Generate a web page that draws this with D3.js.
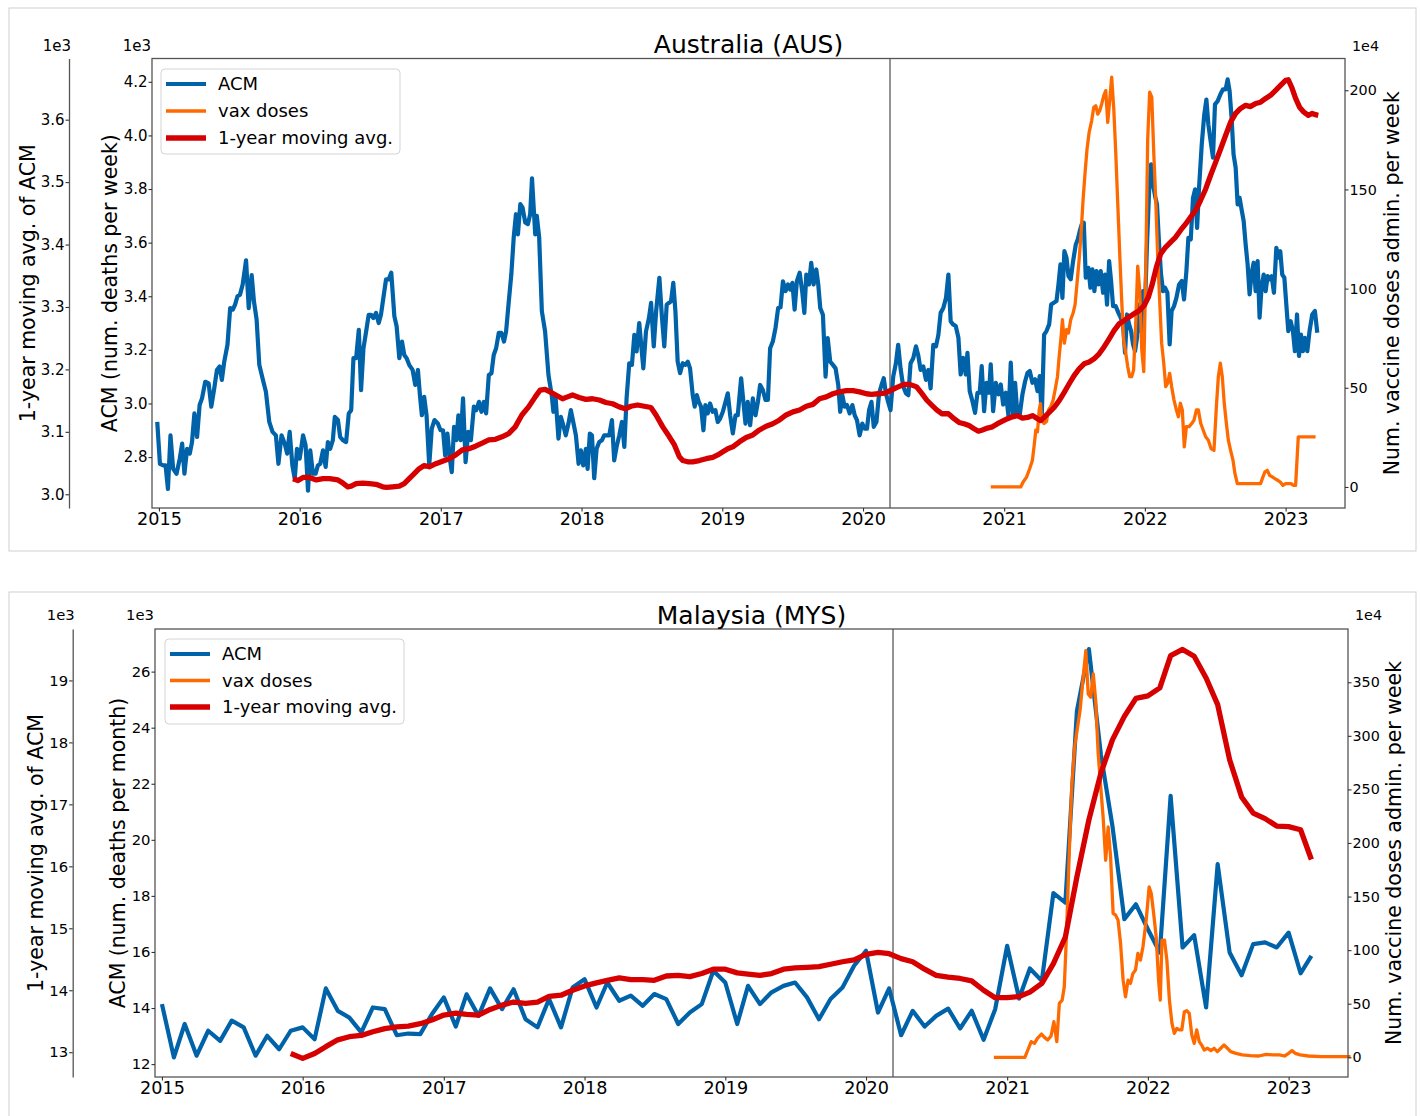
<!DOCTYPE html>
<html>
<head>
<meta charset="utf-8">
<script src="https://cdn.jsdelivr.net/npm/d3@7"></script>
<style>
  body { margin: 0; background: #fff; }
  svg { display: block; }
  text { font-family: "DejaVu Sans", sans-serif; fill: #000; }
</style>
</head>
<body>
<div class="canvas"></div>
<script>
// ---- data ----
const yearTicks = [2015, 2016, 2017, 2018, 2019, 2020, 2021, 2022, 2023];
const pandemicDate = "2020-03-11";

// Australia, weekly ACM: [decimal year, deaths]
const ausAcm = [[2014.988,2931],[2015.007,2775],[2015.031,2769],[2015.047,2769],[2015.064,2681],[2015.082,2881],[2015.101,2756],[2015.125,2738],[2015.148,2794],[2015.165,2850],[2015.181,2738],[2015.200,2831],[2015.219,2813],[2015.235,2856],[2015.252,2963],[2015.271,2875],[2015.289,2994],[2015.306,3019],[2015.329,3081],[2015.353,3075],[2015.372,2988],[2015.393,3056],[2015.412,3125],[2015.431,3138],[2015.447,3088],[2015.464,3156],[2015.487,3219],[2015.506,3356],[2015.525,3350],[2015.541,3369],[2015.558,3400],[2015.576,3406],[2015.595,3444],[2015.619,3534],[2015.638,3356],[2015.659,3479],[2015.675,3381],[2015.694,3313],[2015.713,3144],[2015.736,3094],[2015.760,3044],[2015.784,2931],[2015.807,2894],[2015.831,2881],[2015.849,2775],[2015.871,2881],[2015.894,2850],[2015.911,2813],[2015.929,2894],[2015.948,2769],[2015.965,2719],[2015.981,2831],[2016.000,2794],[2016.024,2881],[2016.042,2844],[2016.059,2675],[2016.075,2825],[2016.094,2738],[2016.113,2738],[2016.129,2769],[2016.146,2775],[2016.165,2825],[2016.184,2763],[2016.200,2856],[2016.216,2831],[2016.235,2863],[2016.249,2950],[2016.271,2938],[2016.287,2875],[2016.306,2863],[2016.329,2856],[2016.348,2963],[2016.365,2975],[2016.381,3169],[2016.400,3169],[2016.419,3275],[2016.435,3050],[2016.452,3206],[2016.471,3269],[2016.489,3331],[2016.506,3331],[2016.522,3319],[2016.541,3338],[2016.560,3300],[2016.576,3331],[2016.593,3394],[2016.612,3463],[2016.631,3463],[2016.649,3488],[2016.671,3325],[2016.687,3288],[2016.706,3169],[2016.725,3231],[2016.741,3181],[2016.758,3169],[2016.776,3144],[2016.800,3125],[2016.819,3069],[2016.838,3125],[2016.852,3031],[2016.866,2956],[2016.882,3025],[2016.899,2956],[2016.918,2769],[2016.936,2906],[2016.955,2938],[2016.979,2925],[2016.998,2900],[2017.016,2900],[2017.031,2806],[2017.047,2888],[2017.064,2794],[2017.078,2744],[2017.094,2913],[2017.111,2863],[2017.125,2956],[2017.141,2863],[2017.158,3019],[2017.176,2781],[2017.195,2894],[2017.214,2863],[2017.235,2988],[2017.252,2975],[2017.271,3006],[2017.289,2969],[2017.306,3006],[2017.322,2963],[2017.341,3106],[2017.360,3113],[2017.376,3181],[2017.393,3206],[2017.412,3263],[2017.431,3263],[2017.449,3231],[2017.464,3269],[2017.482,3375],[2017.501,3481],[2017.518,3619],[2017.534,3706],[2017.548,3631],[2017.565,3744],[2017.581,3731],[2017.600,3675],[2017.619,3669],[2017.635,3706],[2017.648,3840],[2017.671,3631],[2017.682,3700],[2017.699,3619],[2017.718,3344],[2017.741,3269],[2017.765,3106],[2017.788,3031],[2017.800,2969],[2017.816,3019],[2017.836,2869],[2017.853,2950],[2017.870,2919],[2017.888,2881],[2017.907,2925],[2017.924,2975],[2017.941,2931],[2017.960,2881],[2017.979,2775],[2017.995,2825],[2018.012,2769],[2018.031,2831],[2018.043,2756],[2018.059,2888],[2018.074,2881],[2018.090,2721],[2018.107,2831],[2018.126,2856],[2018.145,2863],[2018.161,2881],[2018.178,2881],[2018.197,2881],[2018.216,2938],[2018.232,2788],[2018.249,2838],[2018.268,2881],[2018.287,2931],[2018.304,2838],[2018.320,3019],[2018.339,3150],[2018.358,3144],[2018.375,3256],[2018.391,3194],[2018.410,3300],[2018.427,3200],[2018.439,3131],[2018.458,3269],[2018.479,3319],[2018.494,3375],[2018.513,3213],[2018.530,3344],[2018.553,3469],[2018.570,3331],[2018.588,3213],[2018.605,3369],[2018.620,3375],[2018.636,3381],[2018.652,3450],[2018.667,3344],[2018.683,3156],[2018.700,3113],[2018.719,3150],[2018.738,3144],[2018.755,3156],[2018.771,3131],[2018.790,3031],[2018.804,2988],[2018.819,3031],[2018.833,3006],[2018.849,2988],[2018.866,2900],[2018.880,2994],[2018.897,2963],[2018.913,3000],[2018.932,2969],[2018.951,2975],[2018.968,2931],[2018.985,2944],[2019.004,2969],[2019.023,3006],[2019.039,3038],[2019.056,2956],[2019.075,2888],[2019.094,2956],[2019.110,2956],[2019.134,3094],[2019.150,3006],[2019.165,2925],[2019.181,3006],[2019.198,2919],[2019.217,3019],[2019.236,2956],[2019.253,3006],[2019.269,3069],[2019.288,3050],[2019.307,3013],[2019.324,3013],[2019.340,3206],[2019.359,3231],[2019.378,3281],[2019.397,3356],[2019.414,3359],[2019.431,3456],[2019.450,3419],[2019.467,3444],[2019.483,3425],[2019.498,3450],[2019.514,3350],[2019.530,3456],[2019.550,3488],[2019.569,3413],[2019.583,3338],[2019.597,3481],[2019.616,3444],[2019.632,3525],[2019.649,3444],[2019.668,3500],[2019.682,3444],[2019.696,3356],[2019.715,3331],[2019.734,3100],[2019.749,3244],[2019.767,3156],[2019.786,3144],[2019.805,3131],[2019.824,3069],[2019.838,2969],[2019.853,3031],[2019.869,2988],[2019.886,2994],[2019.905,2963],[2019.924,2994],[2019.941,2956],[2019.957,2938],[2019.976,2881],[2019.995,2925],[2020.012,2906],[2020.028,2906],[2020.043,2975],[2020.060,3006],[2020.076,2913],[2020.095,2931],[2020.114,3038],[2020.131,3069],[2020.147,3094],[2020.162,3038],[2020.178,3006],[2020.195,2975],[2020.214,3100],[2020.233,3150],[2020.249,3219],[2020.266,3131],[2020.285,3063],[2020.304,3038],[2020.321,3031],[2020.337,3150],[2020.356,3169],[2020.375,3213],[2020.391,3181],[2020.408,3125],[2020.427,3138],[2020.446,3088],[2020.463,3125],[2020.479,3056],[2020.498,3219],[2020.517,3213],[2020.534,3256],[2020.550,3338],[2020.569,3356],[2020.588,3394],[2020.605,3481],[2020.621,3307],[2020.638,3295],[2020.657,3289],[2020.676,3245],[2020.692,3108],[2020.709,3170],[2020.728,3108],[2020.740,3189],[2020.756,3046],[2020.775,3009],[2020.794,2965],[2020.811,3040],[2020.827,3040],[2020.841,3139],[2020.858,2971],[2020.875,3077],[2020.893,3040],[2020.905,3146],[2020.922,2971],[2020.941,3077],[2020.960,3034],[2020.976,3071],[2020.993,2996],[2021.012,3040],[2021.031,2953],[2021.047,3152],[2021.064,2959],[2021.078,3077],[2021.095,2953],[2021.111,2959],[2021.130,3034],[2021.149,3083],[2021.166,3114],[2021.182,3121],[2021.201,3077],[2021.220,3090],[2021.237,3046],[2021.253,3102],[2021.267,2947],[2021.284,3257],[2021.301,3270],[2021.320,3295],[2021.334,3369],[2021.353,3376],[2021.372,3382],[2021.386,3444],[2021.400,3519],[2021.414,3394],[2021.428,3568],[2021.443,3544],[2021.457,3475],[2021.473,3463],[2021.490,3531],[2021.509,3593],[2021.523,3612],[2021.537,3643],[2021.551,3668],[2021.566,3674],[2021.580,3469],[2021.599,3506],[2021.613,3432],[2021.627,3500],[2021.641,3419],[2021.656,3494],[2021.670,3444],[2021.686,3494],[2021.703,3413],[2021.717,3481],[2021.731,3369],[2021.746,3531],[2021.760,3456],[2021.774,3363],[2021.793,3363],[2021.812,3338],[2021.828,3320],[2021.845,3295],[2021.859,3189],[2021.873,3332],[2021.888,3295],[2021.902,3270],[2021.916,3220],[2021.930,3195],[2021.944,3245],[2021.959,3369],[2021.973,3270],[2021.987,3419],[2022.001,3369],[2022.015,3593],[2022.030,3792],[2022.044,3892],[2022.058,3817],[2022.072,3774],[2022.086,3743],[2022.101,3593],[2022.115,3481],[2022.129,3419],[2022.143,3432],[2022.160,3413],[2022.176,3220],[2022.190,3345],[2022.207,3363],[2022.224,3394],[2022.243,3444],[2022.262,3457],[2022.278,3388],[2022.295,3494],[2022.309,3618],[2022.326,3612],[2022.342,3767],[2022.357,3799],[2022.371,3655],[2022.385,3805],[2022.404,3966],[2022.422,4078],[2022.437,4134],[2022.451,4041],[2022.467,3979],[2022.484,3917],[2022.498,4116],[2022.517,4128],[2022.536,4153],[2022.555,4172],[2022.574,4172],[2022.588,4209],[2022.602,4165],[2022.616,4066],[2022.630,3929],[2022.645,3880],[2022.659,3743],[2022.673,3767],[2022.687,3724],[2022.702,3680],[2022.716,3593],[2022.730,3519],[2022.744,3407],[2022.759,3488],[2022.773,3525],[2022.787,3419],[2022.801,3531],[2022.815,3320],[2022.829,3432],[2022.844,3481],[2022.858,3419],[2022.872,3475],[2022.886,3463],[2022.901,3475],[2022.917,3413],[2022.934,3581],[2022.948,3544],[2022.962,3568],[2022.976,3481],[2022.991,3469],[2023.005,3369],[2023.019,3270],[2023.036,3307],[2023.052,3270],[2023.066,3195],[2023.081,3332],[2023.095,3177],[2023.109,3257],[2023.123,3195],[2023.137,3245],[2023.154,3195],[2023.170,3270],[2023.189,3332],[2023.208,3345],[2023.225,3264]];

// Australia, 1-year moving average of ACM
const ausAvg = [[2015.953,3025],[2015.988,3022],[2016.024,3027],[2016.071,3027],[2016.118,3023],[2016.165,3025],[2016.212,3025],[2016.271,3023],[2016.306,3018],[2016.341,3012],[2016.365,3013],[2016.400,3017],[2016.447,3018],[2016.494,3017],[2016.541,3016],[2016.588,3012],[2016.616,3011],[2016.659,3012],[2016.706,3013],[2016.741,3017],[2016.776,3025],[2016.812,3033],[2016.847,3041],[2016.882,3046],[2016.918,3044],[2016.965,3049],[2017.012,3053],[2017.059,3057],[2017.106,3063],[2017.153,3071],[2017.200,3073],[2017.247,3077],[2017.294,3082],[2017.341,3087],[2017.388,3088],[2017.435,3092],[2017.482,3097],[2017.529,3108],[2017.576,3127],[2017.624,3140],[2017.671,3156],[2017.706,3167],[2017.741,3168],[2017.776,3164],[2017.817,3159],[2017.865,3153],[2017.900,3156],[2017.936,3159],[2017.983,3155],[2018.031,3152],[2018.078,3153],[2018.126,3151],[2018.173,3147],[2018.221,3145],[2018.268,3140],[2018.311,3137],[2018.351,3141],[2018.398,3143],[2018.446,3141],[2018.493,3139],[2018.529,3127],[2018.577,3108],[2018.624,3092],[2018.660,3079],[2018.695,3060],[2018.719,3054],[2018.754,3052],[2018.790,3052],[2018.837,3054],[2018.885,3057],[2018.932,3059],[2018.968,3063],[2019.004,3068],[2019.039,3073],[2019.075,3076],[2019.122,3084],[2019.170,3091],[2019.217,3095],[2019.264,3103],[2019.312,3109],[2019.359,3113],[2019.407,3119],[2019.454,3127],[2019.502,3132],[2019.549,3135],[2019.597,3141],[2019.644,3144],[2019.691,3153],[2019.739,3156],[2019.786,3161],[2019.834,3164],[2019.881,3166],[2019.929,3166],[2019.976,3164],[2020.024,3161],[2020.060,3160],[2020.107,3161],[2020.154,3162],[2020.202,3167],[2020.249,3172],[2020.290,3176],[2020.332,3176],[2020.380,3172],[2020.415,3162],[2020.451,3151],[2020.486,3143],[2020.522,3135],[2020.558,3129],[2020.605,3129],[2020.645,3121],[2020.680,3115],[2020.716,3113],[2020.751,3110],[2020.787,3105],[2020.818,3101],[2020.846,3103],[2020.882,3106],[2020.917,3108],[2020.953,3113],[2020.988,3117],[2021.024,3121],[2021.059,3124],[2021.095,3126],[2021.130,3122],[2021.166,3123],[2021.201,3126],[2021.237,3121],[2021.260,3118],[2021.284,3123],[2021.320,3131],[2021.355,3139],[2021.391,3150],[2021.426,3163],[2021.462,3177],[2021.497,3190],[2021.533,3201],[2021.568,3209],[2021.604,3212],[2021.639,3217],[2021.675,3225],[2021.710,3236],[2021.746,3249],[2021.781,3262],[2021.817,3273],[2021.852,3278],[2021.888,3284],[2021.923,3289],[2021.959,3294],[2021.994,3302],[2022.025,3316],[2022.053,3337],[2022.082,3364],[2022.112,3385],[2022.148,3396],[2022.183,3404],[2022.219,3412],[2022.254,3423],[2022.290,3433],[2022.325,3444],[2022.361,3455],[2022.396,3471],[2022.432,3489],[2022.467,3511],[2022.503,3532],[2022.538,3553],[2022.574,3575],[2022.609,3596],[2022.645,3610],[2022.680,3618],[2022.716,3623],[2022.751,3621],[2022.787,3626],[2022.822,3628],[2022.858,3634],[2022.893,3639],[2022.929,3647],[2022.964,3655],[2023.000,3663],[2023.019,3664],[2023.043,3652],[2023.071,3634],[2023.099,3620],[2023.130,3612],[2023.161,3607],[2023.189,3610],[2023.213,3608],[2023.232,3607]];

// Australia, vaccine doses per week, in units of 1e4
const ausVax = [[2020.905,0],[2021.118,0],[2021.135,2.5],[2021.159,5],[2021.182,9.3],[2021.201,13.5],[2021.215,22],[2021.225,28.7],[2021.237,27.8],[2021.249,38.8],[2021.258,42],[2021.267,33.7],[2021.284,32],[2021.301,33],[2021.315,38.8],[2021.331,40.5],[2021.348,43.8],[2021.362,48.9],[2021.379,55.6],[2021.391,65.8],[2021.405,75.9],[2021.414,84.3],[2021.428,72.5],[2021.443,79.3],[2021.457,77.6],[2021.473,84.3],[2021.490,87.7],[2021.504,91.9],[2021.518,102.9],[2021.533,114.7],[2021.547,128.2],[2021.561,145],[2021.575,158.5],[2021.589,170.3],[2021.604,178.8],[2021.622,184.7],[2021.637,191.4],[2021.651,192.2],[2021.665,188],[2021.679,189.7],[2021.693,193.1],[2021.708,197.3],[2021.722,199.8],[2021.736,183.8],[2021.750,194.8],[2021.764,206.6],[2021.779,190.6],[2021.793,168.6],[2021.807,143.3],[2021.821,118],[2021.835,94.4],[2021.849,74.2],[2021.864,67.5],[2021.878,60.7],[2021.892,55.6],[2021.906,55.6],[2021.920,59],[2021.935,82.6],[2021.949,111.3],[2021.963,99.5],[2021.978,69.1],[2021.992,58.2],[2022.006,107.9],[2022.020,175.4],[2022.034,199],[2022.049,196.5],[2022.063,168.6],[2022.077,145],[2022.091,116.4],[2022.105,94.4],[2022.119,72.5],[2022.134,62.4],[2022.148,50.6],[2022.162,52.3],[2022.176,57.3],[2022.190,50.6],[2022.207,43.8],[2022.224,38.8],[2022.238,35.4],[2022.252,42.2],[2022.266,38.8],[2022.280,20.2],[2022.295,30.4],[2022.314,30.4],[2022.333,32],[2022.349,33.7],[2022.366,38.8],[2022.380,38.8],[2022.397,32],[2022.414,28.7],[2022.432,25.3],[2022.451,23.6],[2022.470,19.4],[2022.491,18.5],[2022.508,40.5],[2022.522,55.6],[2022.536,62.4],[2022.550,55.6],[2022.564,42.2],[2022.579,32],[2022.593,23.6],[2022.609,18.5],[2022.626,13.5],[2022.640,6.7],[2022.657,1.7],[2022.822,1.7],[2022.839,5.1],[2022.853,7.6],[2022.870,8.4],[2022.886,5.9],[2022.905,5.1],[2022.924,4.2],[2022.943,3.4],[2022.962,2.5],[2022.981,0.8],[2023.000,1.7],[2023.038,1.7],[2023.057,0.8],[2023.071,0.8],[2023.090,25.3],[2023.213,25.3]];

// Malaysia, monthly ACM from Jan 2015, in thousands
const mysAcmStart = [2015, 0];
const mysAcm = [
  14.14, 12.24, 13.43, 12.30, 13.19, 12.83, 13.55, 13.31, 12.30, 13.01, 12.53, 13.19,
  13.31, 12.89, 14.70, 13.90, 13.66, 13.13, 14.02, 13.96, 13.03, 13.09, 13.07, 13.78,
  14.38, 13.34, 14.49, 13.72, 14.70, 13.96, 14.67, 13.60, 13.31, 14.32, 13.31, 14.73,
  15.03, 14.02, 14.91, 14.26, 14.44, 14.08, 14.50, 14.32, 13.43, 13.84, 14.14, 15.33,
  14.91, 13.43, 14.79, 14.14, 14.56, 14.79, 14.91, 14.38, 13.60, 14.32, 14.73, 15.51,
  16.04, 13.84, 14.70, 13.03, 13.90, 13.34, 13.72, 13.98, 13.27, 13.90, 12.87, 13.96,
  16.22, 14.34, 15.41, 14.97, 18.10, 17.76, 24.60, 26.80, 23.05, 20.50, 17.17, 17.70,
  16.81, 15.98, 21.57, 16.16, 16.60, 14.02, 19.13, 15.98, 15.17, 16.28, 16.34, 16.16,
  16.69, 15.24, 15.86
];

// Malaysia, 1-year moving average, monthly from Dec 2015, in thousands
const mysAvgStart = [2015, 11];
const mysAvg = [
  12.98,
  12.90, 12.98, 13.09, 13.20, 13.25, 13.27, 13.33, 13.38, 13.41, 13.42, 13.46, 13.52,
  13.60, 13.63, 13.61, 13.60, 13.69, 13.76, 13.81, 13.79, 13.81, 13.90, 13.92, 14.00,
  14.07, 14.12, 14.16, 14.20, 14.17, 14.17, 14.16, 14.23, 14.24, 14.22, 14.27, 14.34,
  14.34, 14.28, 14.26, 14.24, 14.27, 14.34, 14.36, 14.37, 14.38, 14.42, 14.46, 14.49,
  14.58, 14.61, 14.59, 14.51, 14.46, 14.34, 14.24, 14.21, 14.19, 14.15, 14.00, 13.88,
  13.88, 13.90, 13.97, 14.11, 14.43, 14.86, 15.83, 16.75, 17.50, 18.04, 18.42, 18.71,
  18.75, 18.88, 19.40, 19.50, 19.39, 19.04, 18.61, 17.72, 17.12, 16.86, 16.77, 16.65,
  16.64, 16.59, 16.11
];

// Malaysia, vaccine doses per week, in units of 1e4
const mysVax = [[2020.906,0],[2021.126,0],[2021.147,6.8],[2021.171,14.6],[2021.194,13.0],[2021.215,17.7],[2021.244,21.7],[2021.265,18.6],[2021.288,16.1],[2021.312,19.9],[2021.332,33.2],[2021.353,14.6],[2021.371,50.3],[2021.391,53.4],[2021.406,65.8],[2021.421,112.4],[2021.441,190],[2021.459,252],[2021.479,289],[2021.500,308],[2021.518,323.6],[2021.538,351.6],[2021.559,379.5],[2021.576,339],[2021.594,336],[2021.612,357.8],[2021.629,333],[2021.647,283.2],[2021.665,252.2],[2021.682,224.2],[2021.700,183.9],[2021.718,214.9],[2021.735,187],[2021.753,134.2],[2021.771,132.6],[2021.788,128],[2021.806,106.2],[2021.824,72],[2021.841,56.5],[2021.859,72],[2021.876,68.9],[2021.894,78.3],[2021.912,81.4],[2021.929,96.9],[2021.947,90.7],[2021.965,103.1],[2021.988,128],[2022.009,159],[2022.024,152.8],[2022.041,134.2],[2022.059,112.4],[2022.076,72],[2022.088,53.4],[2022.100,109.3],[2022.118,109.3],[2022.135,90.7],[2022.153,53.4],[2022.171,31.7],[2022.188,22.4],[2022.206,27],[2022.224,25.5],[2022.241,25.5],[2022.259,42.5],[2022.276,43.5],[2022.294,41],[2022.312,20.8],[2022.329,13],[2022.347,25.5],[2022.365,14.6],[2022.382,11.5],[2022.400,6.8],[2022.424,8.4],[2022.447,6.2],[2022.471,8.4],[2022.494,5.3],[2022.518,8.4],[2022.541,11.5],[2022.565,8.4],[2022.588,5.3],[2022.626,3.7],[2022.671,2.2],[2022.729,1.6],[2022.788,1.2],[2022.841,2.8],[2022.891,2.2],[2022.935,2.2],[2022.971,1.2],[2023.000,3.7],[2023.024,6.2],[2023.047,3.7],[2023.082,2.2],[2023.141,1.2],[2023.229,0.6],[2023.318,0.6],[2023.440,0.6]];

// tick values
const ausAcmTicks = [2.8, 3.0, 3.2, 3.4, 3.6, 3.8, 4.0, 4.2];
const ausAvgTicks = [3.0, 3.1, 3.2, 3.3, 3.4, 3.5, 3.6];
const ausVaxTicks = [0, 50, 100, 150, 200];
const mysAcmTicks = [12, 14, 16, 18, 20, 22, 24, 26];
const mysAvgTicks = [13, 14, 15, 16, 17, 18, 19];
const mysVaxTicks = [0, 50, 100, 150, 200, 250, 300, 350];

const colors = { acm: '#0062a8', vax: '#ff6a00', avg: '#d60000' };

// ---- helpers ----
function decYear(t) {
  const y = Math.floor(t);
  const a = Date.UTC(y, 0, 1), b = Date.UTC(y + 1, 0, 1);
  return new Date(a + (t - y) * (b - a));
}
const fromPairs = (arr, k) => arr.map(d => ({ date: decYear(d[0]), value: d[1] * k }));
const fromMonthly = (start, arr, k) =>
  arr.map((v, i) => ({ date: new Date(Date.UTC(start[0], start[1] + i, 1)), value: v * k }));

const svg = d3.select('.canvas')
  .append('svg')
  .attr('width', 1421)
  .attr('height', 1116);

function styleAxis(g, size) {
  g.attr('font-family', null).attr('font-size', size);
  g.selectAll('.tick line').attr('stroke', '#333').attr('stroke-width', 1.1);
  g.selectAll('.tick text').attr('fill', '#000');
  g.select('.domain').attr('stroke', '#555').attr('stroke-width', 1.3);
}

function drawPanel(p) {
  const g = svg.append('g');

  // outer frame
  g.append('rect')
    .attr('x', p.frame[0]).attr('y', p.frame[1])
    .attr('width', p.frame[2]).attr('height', p.frame[3])
    .attr('fill', 'none').attr('stroke', '#cfcfcf').attr('stroke-width', 1);

  const x = d3.scaleUtc()
    .domain([new Date(Date.UTC(2014, 11, 14)), new Date(Date.UTC(2023, 5, 4))])
    .range([p.left, p.right]);
  const yAcm = d3.scaleLinear().domain(p.acmDomain).range([p.bottom, p.top]);
  const yAvg = d3.scaleLinear().domain(p.avgDomain).range([p.bottom, p.top]);
  const yVax = d3.scaleLinear().domain(p.vaxDomain).range([p.bottom, p.top]);

  // vertical marker
  const vx = x(new Date(pandemicDate));
  g.append('line')
    .attr('x1', vx).attr('x2', vx).attr('y1', p.top).attr('y2', p.bottom)
    .attr('stroke', '#7a7a7a').attr('stroke-width', 1.6);

  // lines
  const lineFor = y => d3.line().x(d => x(d.date)).y(d => y(d.value));
  g.append('path').datum(p.acm)
    .attr('fill', 'none').attr('stroke', colors.acm).attr('stroke-width', 4.2)
    .attr('stroke-linejoin', 'round')
    .attr('d', lineFor(yAcm));
  g.append('path').datum(p.vax)
    .attr('fill', 'none').attr('stroke', colors.vax).attr('stroke-width', 3.3)
    .attr('stroke-linejoin', 'round')
    .attr('d', lineFor(yVax));
  g.append('path').datum(p.avg)
    .attr('fill', 'none').attr('stroke', colors.avg).attr('stroke-width', 5.3)
    .attr('stroke-linejoin', 'round')
    .attr('d', lineFor(yAvg));

  // plot frame
  g.append('rect')
    .attr('x', p.left).attr('y', p.top)
    .attr('width', p.right - p.left).attr('height', p.bottom - p.top)
    .attr('fill', 'none').attr('stroke', '#555').attr('stroke-width', 1.3);

  // x axis
  const xa = g.append('g')
    .attr('transform', `translate(0,${p.bottom})`)
    .call(d3.axisBottom(x)
      .tickValues(yearTicks.map(yr => new Date(Date.UTC(yr, 0, 1))))
      .tickFormat(d3.utcFormat('%Y'))
      .tickSize(3.5).tickSizeOuter(0).tickPadding(1.5));
  styleAxis(xa, 17.6);
  xa.select('.domain').remove();

  // ACM axis on left spine
  const ya = g.append('g')
    .attr('transform', `translate(${p.left},0)`)
    .call(d3.axisLeft(yAcm)
      .tickValues(p.acmTicks.map(v => v * 1000))
      .tickFormat(v => p.acmFmt(v / 1000))
      .tickSize(3.5).tickSizeOuter(0).tickPadding(1));
  styleAxis(ya, p.leftFont);
  ya.select('.domain').remove();

  // moving average axis, offset to the left
  const yb = g.append('g')
    .attr('transform', `translate(${p.avgAxisX},0)`)
    .call(d3.axisLeft(yAvg)
      .tickValues(p.avgTicks.map(v => v * 1000))
      .tickFormat(v => p.acmFmt(v / 1000))
      .tickSize(3.5).tickSizeOuter(0).tickPadding(1));
  styleAxis(yb, p.leftFont);

  // vaccine axis on right spine
  const yc = g.append('g')
    .attr('transform', `translate(${p.right},0)`)
    .call(d3.axisRight(yVax)
      .tickValues(p.vaxTicks.map(v => v * 1e4))
      .tickFormat(v => d3.format('d')(v / 1e4))
      .tickSize(3.5).tickSizeOuter(0).tickPadding(1));
  styleAxis(yc, 14.3);
  yc.select('.domain').remove();

  // offset texts
  g.append('text').attr('x', p.avgAxisX + 2).attr('y', p.offsetY)
    .attr('text-anchor', 'end').attr('font-size', p.leftFont).text('1e3');
  g.append('text').attr('x', p.left - 1).attr('y', p.offsetY)
    .attr('text-anchor', 'end').attr('font-size', p.leftFont).text('1e3');
  g.append('text').attr('x', p.right + 7).attr('y', p.offsetY)
    .attr('text-anchor', 'start').attr('font-size', 14.3).text('1e4');

  // title
  g.append('text')
    .attr('x', (p.left + p.right) / 2).attr('y', p.titleY)
    .attr('text-anchor', 'middle').attr('font-size', 25)
    .text(p.title);

  // axis labels
  const cy = (p.top + p.bottom) / 2;
  const vlabel = (cx, txt) => g.append('text')
    .attr('transform', `translate(${cx},${cy}) rotate(-90)`)
    .attr('text-anchor', 'middle').attr('dominant-baseline', 'central')
    .attr('font-size', 20.5).text(txt);
  vlabel(p.avgLabelX, '1-year moving avg. of ACM');
  vlabel(p.acmLabelX, p.acmLabel);
  vlabel(p.vaxLabelX, 'Num. vaccine doses admin. per week');

  // legend
  const lg = g.append('g').attr('transform', `translate(${p.legend[0]},${p.legend[1]})`);
  lg.append('rect')
    .attr('width', 239).attr('height', 85).attr('rx', 4)
    .attr('fill', '#fff').attr('fill-opacity', 0.85)
    .attr('stroke', '#d4d4d4').attr('stroke-width', 1);
  const items = [
    { name: 'ACM', color: colors.acm, w: 4.2 },
    { name: 'vax doses', color: colors.vax, w: 3.3 },
    { name: '1-year moving avg.', color: colors.avg, w: 5.5 }
  ];
  items.forEach((it, i) => {
    const ry = p.legendRows[i];
    lg.append('line').attr('x1', 5).attr('x2', 45).attr('y1', ry).attr('y2', ry)
      .attr('stroke', it.color).attr('stroke-width', it.w);
    lg.append('text').attr('x', 57).attr('y', ry).attr('dy', '0.35em')
      .attr('font-size', 18).text(it.name);
  });
}

drawPanel({
  frame: [9, 8, 1407, 543],
  left: 152, right: 1345, top: 58.5, bottom: 508,
  avgAxisX: 69,
  acmDomain: [2610, 4287], avgDomain: [2978, 3698], vaxDomain: [-106000, 2160000],
  acmTicks: ausAcmTicks, avgTicks: ausAvgTicks, vaxTicks: ausVaxTicks,
  acmFmt: d3.format('.1f'),
  leftFont: 15,
  acm: fromPairs(ausAcm, 1), avg: fromPairs(ausAvg, 1), vax: fromPairs(ausVax, 1e4),
  title: 'Australia (AUS)', titleY: 53, offsetY: 51,
  acmLabel: 'ACM (num. deaths per week)',
  avgLabelX: 28, acmLabelX: 110, vaxLabelX: 1392,
  legend: [161, 69], legendRows: [15, 42, 69]
});

drawPanel({
  frame: [9, 592, 1407, 540],
  left: 155, right: 1348, top: 629, bottom: 1077,
  avgAxisX: 72.7,
  acmDomain: [11540, 27520], avgDomain: [12600, 19830], vaxDomain: [-184000, 3997000],
  acmTicks: mysAcmTicks, avgTicks: mysAvgTicks, vaxTicks: mysVaxTicks,
  acmFmt: d3.format('d'),
  leftFont: 14.8,
  acm: fromMonthly(mysAcmStart, mysAcm, 1000),
  avg: fromMonthly(mysAvgStart, mysAvg, 1000),
  vax: fromPairs(mysVax, 1e4),
  title: 'Malaysia (MYS)', titleY: 624, offsetY: 620,
  acmLabel: 'ACM (num. deaths per month)',
  avgLabelX: 36, acmLabelX: 118, vaxLabelX: 1394,
  legend: [165, 639], legendRows: [15, 41.5, 68]
});
</script>
</body>
</html>
